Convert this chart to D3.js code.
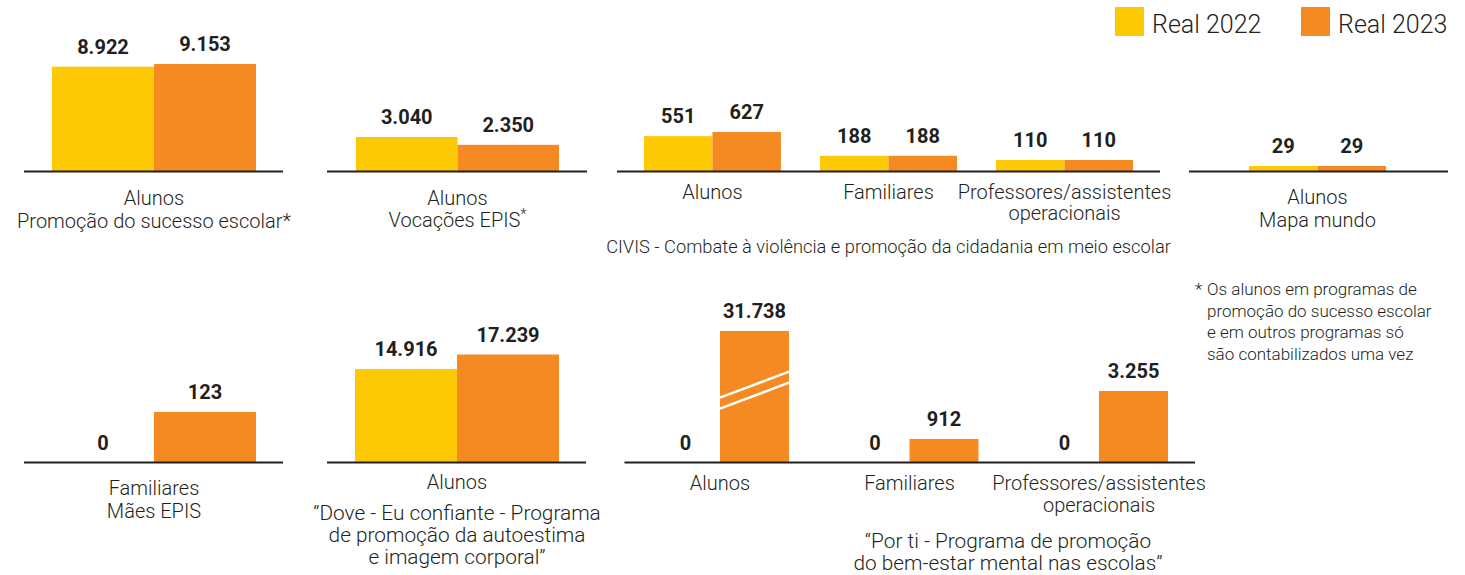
<!DOCTYPE html>
<html>
<head>
<meta charset="utf-8">
<script src="https://cdn.jsdelivr.net/npm/d3@7"></script>
<style>
  html, body { margin: 0; padding: 0; background: #fff; }
  svg { display: block; }
  text { font-family: Roboto, "Noto Sans", sans-serif; fill: #231f20; }
</style>
</head>
<body>
<svg id="chart" width="1465" height="575"></svg>
<script>
// ---------------- DATA ----------------
const seriesNames = ["Real 2022", "Real 2023"];

const sucessoCats = ["Alunos"];
const sucesso2022 = [8922];
const sucesso2023 = [9153];
const sucessoTitle = ["Promoção do sucesso escolar*"];

const vocacoesCats = ["Alunos"];
const vocacoes2022 = [3040];
const vocacoes2023 = [2350];
const vocacoesTitle = ["Vocações EPIS"];

const civisCats = ["Alunos", "Familiares", "Professores/assistentes\noperacionais"];
const civis2022 = [551, 188, 110];
const civis2023 = [627, 188, 110];
const civisTitle = ["CIVIS - Combate à violência e promoção da cidadania em meio escolar"];

const mapaCats = ["Alunos"];
const mapa2022 = [29];
const mapa2023 = [29];
const mapaTitle = ["Mapa mundo"];

const maesCats = ["Familiares"];
const maes2022 = [0];
const maes2023 = [123];
const maesTitle = ["Mães EPIS"];

const doveCats = ["Alunos"];
const dove2022 = [14916];
const dove2023 = [17239];
const doveTitle = ["“Dove - Eu confiante - Programa", "de promoção da autoestima", "e imagem corporal”"];

const portiCats = ["Alunos", "Familiares", "Professores/assistentes\noperacionais"];
const porti2022 = [0, 0, 0];
const porti2023 = [31738, 912, 3255];
const portiTitle = ["“Por ti - Programa de promoção", "do bem-estar mental nas escolas”"];

const footnote = ["Os alunos em programas de", "promoção do sucesso escolar", "e em outros programas só", "são contabilizados uma vez"];

// ---------------- STYLE ----------------
const colors = ["#FDC905", "#F48A21"];
const svg = d3.select("#chart");
const color = d3.scaleOrdinal().domain(seriesNames).range(colors);
const LABEL_SIZE = 20;

// ---------------- LEGEND ----------------
const legendX = d3.scaleOrdinal().domain(seriesNames).range([1115, 1301]);
const lg = svg.append("g");
seriesNames.forEach(s => {
  lg.append("rect").attr("x", legendX(s)).attr("y", 7).attr("width", 29).attr("height", 29).attr("fill", color(s));
  lg.append("text").attr("x", legendX(s) + 37).attr("y", 32.5).attr("font-size", 25).attr("font-weight", 300).text(s);
});

// ---------------- PANEL ----------------
function panel(cfg, cats, v22, v23, title) {
  const g = svg.append("g");
  const x = d3.scaleBand().domain(cats).range(cfg.bars).paddingInner(cfg.pi || 0);
  const xs = d3.scaleBand().domain(seriesNames).range([0, x.bandwidth()]);
  const h = d3.scaleLinear().domain(cfg.domain).range(cfg.hRange).clamp(true);
  const hv = v => v > 0 ? h(v) : 0;
  const rows = [];
  cats.forEach((c, i) => {
    rows.push({ cat: c, s: seriesNames[0], v: v22[i] });
    rows.push({ cat: c, s: seriesNames[1], v: v23[i] });
  });
  // bars
  g.selectAll("rect.bar").data(rows.filter(d => d.v > 0)).join("rect")
    .attr("class", "bar")
    .attr("x", d => x(d.cat) + xs(d.s))
    .attr("width", xs.bandwidth())
    .attr("y", d => cfg.base - hv(d.v))
    .attr("height", d => hv(d.v))
    .attr("fill", d => color(d.s));
  // break marks for bars beyond the scale
  rows.filter(d => d.v > cfg.domain[1]).forEach(d => {
    const x0 = x(d.cat) + xs(d.s), x1 = x0 + xs.bandwidth();
    const top = cfg.base - hv(d.v);
    const cy = top + hv(d.v) * 0.45;
    [-5.5, 5.5].forEach(o => {
      g.append("line").attr("x1", x0).attr("x2", x1)
        .attr("y1", cy + o + 13).attr("y2", cy + o - 13)
        .attr("stroke", "#fff").attr("stroke-width", 2.5);
    });
  });
  // value labels
  g.selectAll("text.val").data(rows).join("text")
    .attr("class", "val")
    .attr("x", d => x(d.cat) + xs(d.s) + xs.bandwidth() / 2)
    .attr("y", d => cfg.base - hv(d.v) - 13)
    .attr("text-anchor", "middle")
    .attr("font-size", 20).attr("font-weight", 700)
    .attr("fill", "#111")
    .text(d => d3.format(",")(d.v).replace(/,/g, "."));
  // baseline
  g.append("line").attr("x1", cfg.axis[0]).attr("x2", cfg.axis[1])
    .attr("y1", cfg.base).attr("y2", cfg.base)
    .attr("stroke", "#231f20").attr("stroke-width", 2);
  // category labels
  cats.forEach(c => {
    const t = g.append("text").attr("text-anchor", "middle")
      .attr("font-size", LABEL_SIZE).attr("font-weight", 300);
    c.split("\n").forEach((line, k) => {
      t.append("tspan").attr("x", x(c) + x.bandwidth() / 2)
        .attr("y", cfg.labelY + k * cfg.lh).text(line);
    });
  });
  // title
  const tx = cfg.titleX !== undefined ? cfg.titleX : (cfg.bars[0] + cfg.bars[1]) / 2;
  title.forEach((line, k) => {
    const t = g.append("text").attr("text-anchor", "middle")
      .attr("x", tx).attr("y", cfg.titleY + k * cfg.tlh)
      .attr("font-size", cfg.titleSize || LABEL_SIZE).attr("font-weight", 300);
    t.append("tspan").text(line);
    if (cfg.supStar && k === title.length - 1) {
      t.append("tspan").attr("dy", -8).attr("font-size", 14).text("*");
    }
  });
  return g;
}

panel({ bars: [52, 256], axis: [24, 283], base: 171.5, domain: [0, 9153], hRange: [0, 107.5],
        labelY: 205, lh: 23, titleY: 228, tlh: 23 },
      sucessoCats, sucesso2022, sucesso2023, sucessoTitle);

panel({ bars: [356, 559], axis: [327, 587], base: 171.5, domain: [0, 3040], hRange: [0, 34.5],
        labelY: 205, lh: 23, titleY: 227, tlh: 23, supStar: true },
      vocacoesCats, vocacoes2022, vocacoes2023, vocacoesTitle);

panel({ bars: [644, 1133], pi: 0.222, axis: [617, 1160], base: 171.5, domain: [0, 627], hRange: [5.5, 39.5],
        labelY: 198.5, lh: 21.5, titleX: 888.5, titleY: 253, tlh: 22, titleSize: 18.3 },
      civisCats, civis2022, civis2023, civisTitle);

panel({ bars: [1249, 1386], axis: [1189, 1448], base: 171.5, domain: [0, 29], hRange: [0, 5.5],
        labelY: 204, lh: 23, titleY: 227, tlh: 23 },
      mapaCats, mapa2022, mapa2023, mapaTitle);

panel({ bars: [52, 256], axis: [24, 283], base: 462.5, domain: [0, 123], hRange: [0, 50.5],
        labelY: 495, lh: 23, titleY: 518, tlh: 23 },
      maesCats, maes2022, maes2023, maesTitle);

panel({ bars: [355, 559], axis: [327, 586], base: 462.5, domain: [0, 17239], hRange: [0, 108],
        labelY: 489, lh: 23, titleY: 519.5, tlh: 22, titleSize: 20.8 },
      doveCats, dove2022, dove2023, doveTitle);

panel({ bars: [651, 1168], pi: 0.272, axis: [624.5, 1195], base: 462.5, domain: [0, 6183], hRange: [4.8, 131.5],
        labelY: 489.5, lh: 22.5, titleX: 1008, titleY: 548, tlh: 22, titleSize: 20.8 },
      portiCats, porti2022, porti2023, portiTitle);

// ---------------- FOOTNOTE ----------------
const fn = svg.append("g");
fn.append("text").attr("x", 1195).attr("y", 295).attr("font-size", 17).attr("font-weight", 300).text("*");
footnote.forEach((line, k) => {
  fn.append("text").attr("x", 1207).attr("y", 295 + k * 21.7)
    .attr("font-size", 17).attr("font-weight", 300).text(line);
});
</script>
</body>
</html>
